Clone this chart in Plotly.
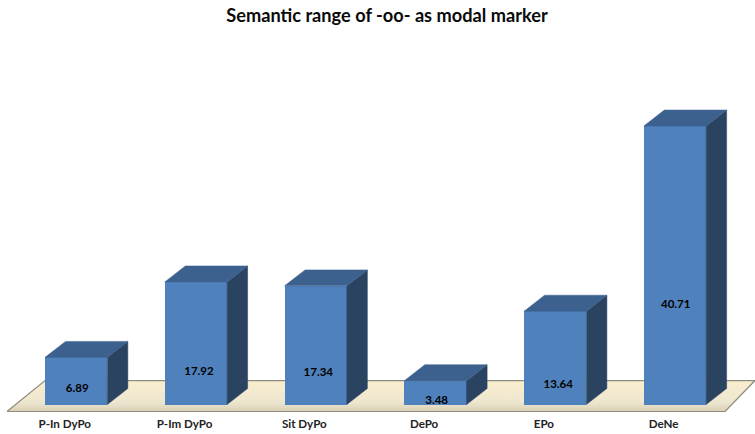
import plotly.graph_objects as go

categories = ["P-In DyPo", "P-Im DyPo", "Sit DyPo", "DePo", "EPo", "DeNe"]
values = [6.89, 17.92, 17.34, 3.48, 13.64, 40.71]
title_text = "Semantic range of -oo- as modal marker"

# --- layout / style constants (not data) ---
W, H = 755, 434
BASE_PX = 405.0      # pixel row of value 0
UNIT_PX = 6.85       # pixels per value unit
X0_PX = 76.2         # pixel centre of first bar
STEP_PX = 119.76     # pixels between bars
BAR_W = 0.52         # in category units
DX = 20.5 / STEP_PX  # depth offset in x units
DY = 16.0 / UNIT_PX  # depth offset in y units
BOTTOM_PX = 412.5
TICK_SHIFT = -11.4 / STEP_PX
FONT = "Lato"
# where each label sits, as a share of its bar height, and its x nudge
label_share = [0.323, 0.262, 0.268, 0.146, 0.2025, 0.358]
label_nudge = [1.0, 3.0, 2.6, 1.2, 3.0, 0.7]

xr = [-X0_PX / STEP_PX, (W - X0_PX) / STEP_PX]
yr = [(BASE_PX - BOTTOM_PX) / UNIT_PX, BASE_PX / UNIT_PX]


def px_x(p):
    return (p - X0_PX) / STEP_PX


def px_y(p):
    return (BASE_PX - p) / UNIT_PX


fig = go.Figure()

# floor parallelogram (under everything)
floor_x = [px_x(7), px_x(725), px_x(755), px_x(45), px_x(7)]
floor_y = [px_y(412), px_y(412), px_y(381), px_y(381), px_y(412)]
fig.add_trace(go.Scatter(
    x=floor_x, y=floor_y, mode="lines", fill="toself",
    line=dict(color="#8f8c80", width=1.2),
    fillgradient=dict(type="vertical",
                      colorscale=[[0, "#d9d0b5"], [0.3, "#ede6cf"], [1, "#fbeecf"]]),
    hoverinfo="skip", showlegend=False, xaxis="x", yaxis="y",
))

# front faces
fig.add_trace(go.Bar(
    x=list(range(len(values))), y=values, width=BAR_W,
    marker=dict(color="#4f81bd", line=dict(width=0)),
    hoverinfo="x+y", showlegend=False, xaxis="x2", yaxis="y2",
))

# side and top faces derived from the values
for i, v in enumerate(values):
    l, r = i - BAR_W / 2, i + BAR_W / 2
    fig.add_trace(go.Scatter(
        x=[r, r + DX, r + DX, r, r], y=[0, DY, v + DY, v, 0],
        mode="lines", fill="toself", fillcolor="#2a4361",
        line=dict(color="#2a4361", width=0.5),
        hoverinfo="skip", showlegend=False, xaxis="x2", yaxis="y2",
    ))
    fig.add_trace(go.Scatter(
        x=[l, r, r + DX, l + DX, l], y=[v, v, v + DY, v + DY, v],
        mode="lines", fill="toself", fillcolor="#3c618e",
        line=dict(color="#3c618e", width=0.5),
        hoverinfo="skip", showlegend=False, xaxis="x2", yaxis="y2",
    ))

# data labels
fig.add_trace(go.Scatter(
    x=[i + n / STEP_PX for i, n in enumerate(label_nudge)],
    y=[v * s for v, s in zip(values, label_share)],
    text=[f"{v:.2f}" for v in values],
    mode="text", textposition="middle center",
    textfont=dict(family=FONT, size=11.5, color="#000000", weight="bold"),
    hoverinfo="skip", showlegend=False, xaxis="x2", yaxis="y2",
))

fig.update_layout(
    width=W, height=H, autosize=False,
    margin=dict(l=0, r=0, t=0, b=H - BOTTOM_PX),
    paper_bgcolor="white", plot_bgcolor="white",
    font=dict(family=FONT, color="#1a1a1a"),
    title=dict(text=f"<b>{title_text}</b>", x=387 / W, xanchor="center",
               y=1 - 16 / H, yanchor="middle",
               font=dict(family=FONT, size=18.2, color="#0a0a0a")),
    xaxis=dict(range=xr, tickmode="array",
               tickvals=[i + TICK_SHIFT for i in range(len(categories))],
               ticktext=[f"<b>{c}</b>" for c in categories],
               showgrid=False, zeroline=False, showline=False, ticks="",
               ticklabelstandoff=3,
               tickfont=dict(family=FONT, size=11.6, color="#222222")),
    yaxis=dict(range=yr, visible=False, showgrid=False, zeroline=False),
    xaxis2=dict(range=xr, overlaying="x", visible=False, matches="x"),
    yaxis2=dict(range=yr, overlaying="y", visible=False, matches="y"),
    bargap=0,
)

fig.write_html("out.html", config=dict(displayModeBar=False),
               post_script="document.body.style.margin='0';document.documentElement.style.overflow='hidden';")
